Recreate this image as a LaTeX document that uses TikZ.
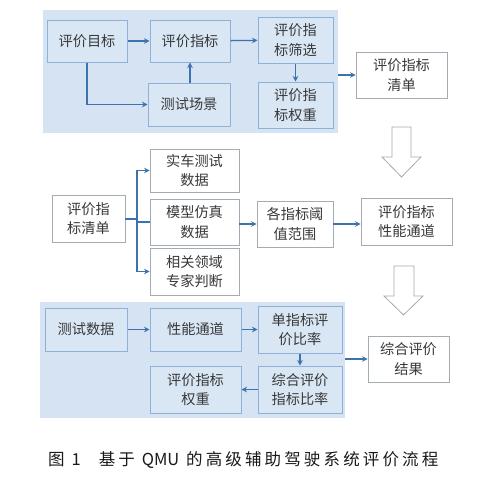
\documentclass[tikz,border=0pt]{standalone}
\usepackage{fontspec}
\setmainfont{Noto Sans CJK SC}
\newfontfamily\cjk{Noto Sans CJK SC}
\newfontfamily\capfont[LetterSpace=19]{Noto Sans CJK SC}
\usetikzlibrary{arrows.meta}
\definecolor{panelfill}{HTML}{D5E3F2}
\definecolor{boxfill}{HTML}{D9E7F5}
\definecolor{boxline}{HTML}{8DB1D8}
\definecolor{outline}{HTML}{A3ABB3}
\definecolor{arrowc}{HTML}{3E72AE}
\definecolor{txt}{HTML}{383838}
\tikzset{
  x=1pt,y=-1pt,
  panel/.style={draw=none,fill=panelfill,inner sep=0pt,anchor=north west},
  inbox/.style={draw=boxline,line width=1pt,fill=boxfill,text=txt,align=center,inner sep=0pt,
    font=\cjk\fontsize{14.2}{19.5}\selectfont},
  outbox/.style={draw=outline,line width=0.8pt,fill=white,text=txt,align=center,inner sep=0pt,
    font=\cjk\fontsize{14.2}{19.5}\selectfont},
  conn/.style={draw=arrowc,line width=1.3pt,-{Stealth[length=5.5pt,width=5.5pt]}},
  plain/.style={draw=arrowc,line width=1.3pt},
  hollow/.style={draw=outline,line width=0.8pt,fill=white,line join=miter},
}
\newcommand{\bx}[6]{\node[#1,minimum width=#4pt,minimum height=#5pt] (#2) at (#3) {#6};}
\begin{document}
\begin{tikzpicture}
\useasboundingbox (0,0) rectangle (500,479);
% top panel
\node[panel,minimum width=295pt,minimum height=123pt] (P1) at (43,10) {};
\bx{inbox}{tA}{87,41}{80}{42}{评价目标}
\bx{inbox}{tB}{190,41}{80}{42}{评价指标}
\bx{inbox}{tC}{295.5,40}{75}{46}{评价指\\标筛选}
\bx{inbox}{tD}{189,104.5}{82}{43}{测试场景}
\bx{inbox}{tE}{295.5,105}{75}{46}{评价指\\标权重}
\bx{outbox}{R1}{401.5,75}{91}{46}{评价指标\\清单}
\draw[conn] (tA) -- (tB);
\draw[conn] (tB) -- (tC);
\draw[conn] (tA.south) |- (tD.west);
\draw[conn] (tD.north -| tB.south) -- (tB.south);
\draw[conn] (tC) -- (tE);
\draw[conn] (R1.west -| P1.east) -- (R1.west);
% hollow arrow 1
\draw[hollow] (392,127) -- (411,127) -- (411,157) -- (421,157) -- (401.5,177) -- (382,157) -- (392,157) -- cycle;
% middle
\bx{outbox}{mA}{88.5,218.5}{73}{47}{评价指\\标清单}
\bx{outbox}{mB}{194.5,170.5}{89}{43}{实车测试\\数据}
\bx{outbox}{mC}{194.5,222}{89}{46}{模型仿真\\数据}
\bx{outbox}{mD}{194.5,271.5}{89}{47}{相关领域\\专家判断}
\bx{outbox}{mE}{295,224}{76}{46}{各指标阈\\值范围}
\bx{outbox}{mF}{406.5,221.5}{91}{47}{评价指标\\性能通道}
\coordinate (br) at (137,219);
\draw[plain] (mA.east |- br) -- (br);
\draw[plain] (br) -- (br |- mC.west) -- (mC.west);
\draw[conn] (br) |- (mB.west);
\draw[conn] (br) |- (mD.west);
\draw[conn] (mC.east |- mE.west) -- (mE.west);
\draw[conn] (mE) -- (mF.west |- mE);
% hollow arrow 2
\draw[hollow] (394,266) -- (414,266) -- (414,296) -- (423,296) -- (403.5,315) -- (384,296) -- (394,296) -- cycle;
% bottom panel
\node[panel,minimum width=305pt,minimum height=116pt] (P2) at (40,302) {};
\bx{inbox}{bA}{86,329.5}{82}{43}{测试数据}
\bx{inbox}{bB}{195.5,329.5}{91}{43}{性能通道}
\bx{inbox}{bC}{300,329.5}{84}{47}{单指标评\\价比率}
\bx{inbox}{bD}{300,389.5}{84}{47}{综合评价\\指标比率}
\bx{inbox}{bE}{195.5,389.5}{91}{47}{评价指标\\权重}
\bx{outbox}{R2}{408.5,359}{81}{46}{综合评价\\结果}
\draw[conn] (bA) -- (bB);
\draw[conn] (bB) -- (bC);
\draw[conn] (bC) -- (bD);
\draw[conn] (bD) -- (bE);
\draw[conn] (R2.west -| P2.east) -- (R2.west);
% caption
\node[font=\capfont\fontsize{16.5}{20}\selectfont,text=black!90,anchor=west,inner sep=0pt] (cap) at (48,460) {图 {\cjk 1}\hspace{1.1em}基于 {\cjk QMU} 的高级辅助驾驶系统评价流程};
\end{tikzpicture}
\end{document}
